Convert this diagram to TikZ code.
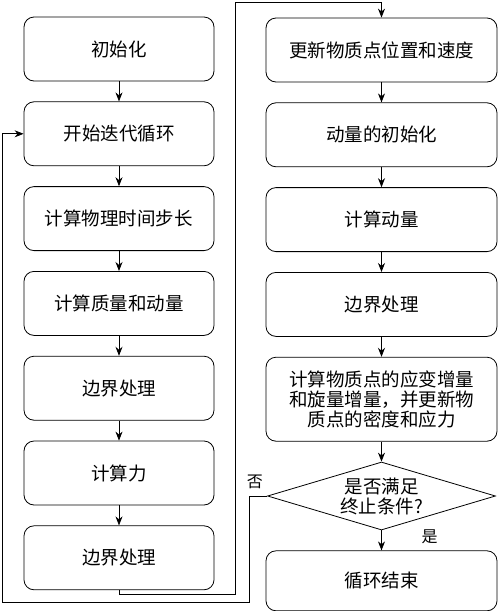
\documentclass[tikz,border=0pt]{standalone}
\usepackage{fontspec}
\setmainfont{Noto Sans CJK SC}
\usetikzlibrary{arrows.meta,positioning,shapes.geometric}
\begin{document}
\begin{tikzpicture}[
    x=1pt, y=1pt,
    node distance=20pt,
    flowstep/.style={draw, rounded corners=10pt, align=center, minimum height=64pt, inner sep=2pt, line width=0.8pt, font=\fontsize{18.5}{20}\selectfont},
    leftstep/.style={flowstep, minimum width=190pt},
    rightstep/.style={flowstep, minimum width=231pt},
    decision/.style={draw, diamond, aspect=3.35, minimum width=228pt, minimum height=68pt, inner sep=1pt, align=center, line width=0.8pt, font=\fontsize{18.5}{20}\selectfont},
    branchlabel/.style={inner sep=2pt, font=\fontsize{16}{18}\selectfont},
    arrow/.style={-{Stealth[length=9pt, width=7pt]}, line width=0.8pt}
]
\useasboundingbox (0,0) rectangle (500,-611);
\node[leftstep] (init) at (119,-49) {初始化};
\node[leftstep, below=of init] (iter) {开始迭代循环};
\node[leftstep, below=of iter] (dt) {计算物理时间步长};
\node[leftstep, below=of dt] (mass) {计算质量和动量};
\node[leftstep, below=of mass] (bc1) {边界处理};
\node[leftstep, below=of bc1] (force) {计算力};
\node[leftstep, below=of force] (bc2) {边界处理};
\node[rightstep] (update) at (381.5,-50) {更新物质点位置和速度};
\node[rightstep, below=of update] (reinit) {动量的初始化};
\node[rightstep, below=of reinit] (mom) {计算动量};
\node[rightstep, below=of mom] (bc3) {边界处理};
\node[rightstep, minimum height=84pt, below=of bc3] (strain) {计算物质点的应变增量\\和旋量增量，并更新物\\质点的密度和应力};
\node[decision, below=of strain] (stop) {是否满足\\终止条件?};
\node[rightstep, minimum height=60pt, below=of stop] (done) {循环结束};
\coordinate (jumpA) at (235,-594);
\coordinate (jumpB) at (235,-2);
\coordinate (backA) at ([xshift=-18pt]stop.west);
\coordinate (backB) at (2,-602);
\draw[arrow] (init) -- (iter);
\draw[arrow] (iter) -- (dt);
\draw[arrow] (dt) -- (mass);
\draw[arrow] (mass) -- (bc1);
\draw[arrow] (bc1) -- (force);
\draw[arrow] (force) -- (bc2);
\draw[arrow] (bc2.south) |- (jumpA) -- (jumpB) -| (update.north);
\draw[arrow] (update) -- (reinit);
\draw[arrow] (reinit) -- (mom);
\draw[arrow] (mom) -- (bc3);
\draw[arrow] (bc3) -- (strain);
\draw[arrow] (strain) -- (stop);
\draw[arrow] (stop) -- (done);
\draw[arrow] (stop.west) -- (backA) |- (backB) |- (iter.west);
\node[branchlabel, above left=5pt and 2pt of stop.west] (nolabel) {否};
\node[branchlabel, right=38pt of stop.south, yshift=-6pt] (yeslabel) {是};
\end{tikzpicture}
\end{document}
